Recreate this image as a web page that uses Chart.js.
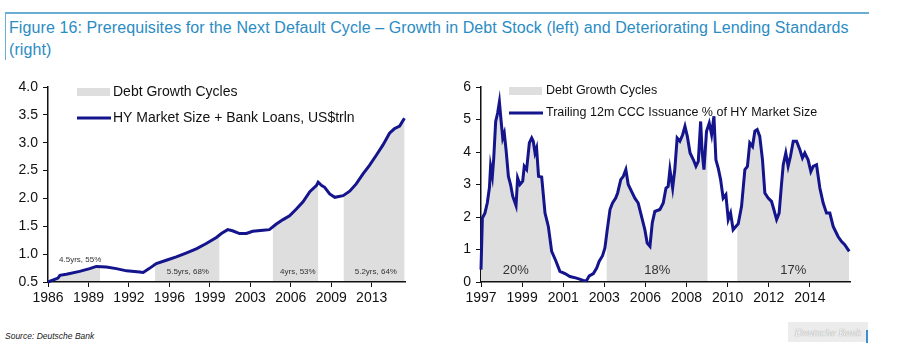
<!DOCTYPE html>
<html>
<head>
<meta charset="utf-8">
<script src="https://cdn.jsdelivr.net/npm/chart.js@4.4.1/dist/chart.umd.min.js"></script>
<style>
  body { margin: 0; width: 897px; height: 354px; background: #fff; position: relative; overflow: hidden; font-family: "Liberation Sans", Arial, sans-serif; }
  #frame { position: absolute; left: 5px; top: 12px; width: 863px; height: 46px; border-top: 2px solid #6aaed6; border-left: 1px solid #6aaed6; }
  #title { position: absolute; left: 9px; top: 17px; font-size: 16px; line-height: 22px; color: #2b8cc4; white-space: nowrap; letter-spacing: 0.1px; }
  .box { position: absolute; top: 60px; width: 440px; height: 260px; }
  #source { position: absolute; left: 5px; top: 331px; font-size: 8.5px; font-style: italic; color: #222; }
  #wm { position: absolute; left: 788px; top: 322px; width: 80px; height: 20px; background: #ececec; color: #fff; font: italic 11px "Liberation Serif", serif; line-height: 20px; text-align: center; text-shadow: 0 0 1px #666; }
  #wmbar { position: absolute; left: 866px; top: 330px; width: 2px; height: 13px; background: #3d8fd1; }
</style>
</head>
<body>
<div id="frame"></div>
<div id="title">Figure 16: Prerequisites for the Next Default Cycle – Growth in Debt Stock (left) and Deteriorating Lending Standards<br>(right)</div>
<div class="box" style="left:0px"><canvas id="left"></canvas></div>
<div class="box" style="left:450px"><canvas id="right"></canvas></div>
<div id="source">Source: Deutsche Bank</div>
<div id="wm">Deutsche Bank</div>
<div id="wmbar"></div>
<script>
// left: HY market size + bank loans, US$ trillion
const leftYears = [1986.0, 1986.84, 1987.0, 1987.54, 1988.66, 1989.5, 1990.06, 1990.9, 1991.74, 1992.6, 1993.7, 1994.0, 1994.5, 1995.1, 1995.94, 1996.78, 1997.6, 1998.5, 1999.3, 2000.15, 2000.57, 2001.1, 2001.5, 2002.1, 2002.67, 2003.2, 2004.07, 2004.6, 2005.19, 2005.75, 2006.3, 2006.87, 2007.43, 2008.0, 2008.55, 2008.7, 2009.0, 2009.25, 2009.67, 2010.1, 2010.8, 2011.35, 2011.9, 2012.47, 2013.0, 2013.6, 2014.15, 2014.7, 2015.1, 2015.55, 2015.95];
const leftValues = [0.50, 0.57, 0.62, 0.64, 0.69, 0.74, 0.78, 0.77, 0.74, 0.70, 0.68, 0.67, 0.74, 0.83, 0.89, 0.95, 1.02, 1.10, 1.19, 1.30, 1.37, 1.44, 1.42, 1.37, 1.37, 1.41, 1.43, 1.44, 1.54, 1.62, 1.69, 1.81, 1.94, 2.12, 2.23, 2.29, 2.23, 2.20, 2.08, 2.02, 2.05, 2.13, 2.26, 2.44, 2.59, 2.78, 2.96, 3.17, 3.25, 3.30, 3.44];
const leftCycleStart = [1986.0, 1995.0, 2004.9, 2010.85];
const leftCycleEnd = [1990.37, 2000.4, 2008.7, 2016.0];
const leftCycleText = ["4.5yrs, 55%", "5.5yrs, 68%", "4yrs, 53%", "5.2yrs, 64%"];
const leftCycleTextX = [1988.7, 1997.75, 2007.0, 2013.55];
const leftCycleTextY = [0.9, 0.68, 0.68, 0.68];
const leftTickPos = [1986, 1989.4, 1992.8, 1996.2, 1999.6, 2003.0, 2006.4, 2009.8, 2013.2];
const leftTickLabels = ["1986", "1989", "1992", "1996", "1999", "2003", "2006", "2009", "2013"];

// right: trailing 12m CCC issuance % of HY market size
const rightYears = [1997.65, 1997.72, 1997.85, 1997.97, 1998.08, 1998.14, 1998.23, 1998.30, 1998.40, 1998.50, 1998.59, 1998.67, 1998.76, 1998.84, 1998.93, 1999.05, 1999.16, 1999.27, 1999.44, 1999.52, 1999.64, 1999.78, 1999.86, 1999.98, 2000.12, 2000.24, 2000.32, 2000.41, 2000.49, 2000.59, 2000.75, 2000.92, 2001.09, 2001.26, 2001.48, 2001.68, 2001.94, 2002.19, 2002.53, 2002.87, 2003.04, 2003.18, 2003.39, 2003.56, 2003.69, 2003.86, 2003.98, 2004.10, 2004.24, 2004.37, 2004.53, 2004.63, 2004.79, 2004.92, 2005.05, 2005.17, 2005.34, 2005.51, 2005.68, 2005.85, 2006.02, 2006.14, 2006.28, 2006.40, 2006.53, 2006.79, 2006.96, 2007.10, 2007.21, 2007.30, 2007.44, 2007.55, 2007.67, 2007.81, 2007.95, 2008.07, 2008.19, 2008.33, 2008.50, 2008.63, 2008.75, 2008.87, 2008.95, 2009.04, 2009.17, 2009.31, 2009.43, 2009.55, 2009.65, 2009.77, 2009.89, 2010.02, 2010.16, 2010.28, 2010.40, 2010.53, 2010.67, 2010.79, 2010.96, 2011.13, 2011.26, 2011.38, 2011.52, 2011.64, 2011.76, 2011.89, 2012.03, 2012.15, 2012.32, 2012.49, 2012.61, 2012.75, 2012.88, 2013.00, 2013.09, 2013.22, 2013.34, 2013.46, 2013.60, 2013.77, 2013.94, 2014.07, 2014.19, 2014.36, 2014.50, 2014.62, 2014.79, 2014.96, 2015.13, 2015.30, 2015.47, 2015.64, 2015.89, 2016.06, 2016.23, 2016.46];
const rightValues = [0.38, 1.97, 2.12, 2.43, 2.90, 3.56, 3.25, 3.80, 4.94, 5.20, 5.54, 5.00, 4.43, 4.58, 4.07, 3.25, 3.00, 2.64, 2.35, 3.20, 3.00, 3.10, 3.56, 3.46, 4.28, 4.43, 4.33, 3.97, 4.12, 3.25, 3.23, 2.12, 1.71, 0.94, 0.64, 0.33, 0.26, 0.17, 0.12, 0.05, 0.04, 0.19, 0.26, 0.43, 0.64, 0.81, 1.05, 1.61, 2.23, 2.43, 2.58, 2.74, 3.15, 3.25, 3.46, 3.00, 2.79, 2.58, 2.43, 2.02, 1.61, 1.20, 1.10, 1.82, 2.17, 2.23, 2.43, 2.89, 2.94, 3.46, 2.89, 3.46, 4.43, 4.33, 4.53, 4.79, 4.48, 3.97, 3.76, 3.56, 3.71, 4.94, 3.97, 3.46, 4.64, 4.89, 4.53, 5.10, 3.76, 3.50, 3.15, 2.58, 2.69, 1.92, 2.12, 1.61, 1.71, 1.79, 2.33, 3.46, 3.56, 4.28, 4.17, 4.64, 4.69, 4.48, 3.76, 2.74, 2.58, 2.48, 2.23, 1.92, 2.12, 3.00, 3.61, 3.97, 3.56, 3.87, 4.33, 4.33, 4.07, 3.82, 3.97, 3.76, 3.40, 3.56, 3.61, 2.89, 2.43, 2.12, 2.12, 1.71, 1.40, 1.25, 1.15, 0.94];
const rightCycleStart = [1997.65, 2004.07, 2010.74];
const rightCycleEnd = [2001.22, 2009.22, 2016.46];
const rightCycleText = ["20%", "18%", "17%"];
const rightCycleTextX = [1999.43, 2006.65, 2013.6];
const rightCycleTextY = [0.37, 0.37, 0.37];
const rightTickPos = [1997.65, 1999.75, 2001.85, 2003.95, 2006.05, 2008.15, 2010.25, 2012.35, 2014.45];
const rightTickLabels = ["1997", "1999", "2001", "2003", "2006", "2008", "2010", "2012", "2014"];

const NAVY = "#14148c";
const SHADE = "#dedede";
const FONT = "'Liberation Sans', Arial, sans-serif";

// shaded debt-growth cycles (area under the line), cycle labels and the legend
const cyclesPlugin = {
  id: "cycles",
  beforeDatasetsDraw(chart, args, o) {
    const { ctx, chartArea: a, scales: { x, y } } = chart;
    const pts = chart.getDatasetMeta(0).data;
    const base = y.getPixelForValue(y.min) - 1;
    o.starts.forEach((s, i) => {
      const x0 = x.getPixelForValue(s), x1 = x.getPixelForValue(o.ends[i]);
      ctx.save();
      ctx.beginPath();
      ctx.rect(x0, a.top - 10, x1 - x0, a.bottom - a.top + 10);
      ctx.clip();
      ctx.beginPath();
      ctx.moveTo(pts[0].x, base);
      pts.forEach(p => ctx.lineTo(p.x, p.y));
      ctx.lineTo(pts[pts.length - 1].x, base);
      ctx.closePath();
      ctx.fillStyle = SHADE;
      ctx.fill();
      ctx.restore();
    });
    ctx.save();
    ctx.font = o.labelFont;
    ctx.fillStyle = "#333";
    ctx.textAlign = "center";
    ctx.textBaseline = "middle";
    o.texts.forEach((t, i) => ctx.fillText(t, x.getPixelForValue(o.textX[i]), y.getPixelForValue(o.textY[i])));
    ctx.restore();
  },
  afterDraw(chart, args, o) {
    const ctx = chart.ctx, L = o.legend;
    ctx.save();
    ctx.fillStyle = SHADE;
    ctx.fillRect(L.x, L.y1 - 4, 33, 8);
    ctx.strokeStyle = NAVY;
    ctx.lineWidth = 3;
    ctx.beginPath();
    ctx.moveTo(L.x, L.y2);
    ctx.lineTo(L.x + 34, L.y2);
    ctx.stroke();
    ctx.font = L.font;
    ctx.fillStyle = "#111";
    ctx.textBaseline = "middle";
    ctx.fillText("Debt Growth Cycles", L.tx, L.y1);
    ctx.fillText(L.label, L.tx, L.y2);
    ctx.restore();
  }
};

function buildChart(id, years, values, cfg) {
  const pts = years.map((yr, i) => ({ x: yr, y: values[i] }));
  return new Chart(document.getElementById(id), {
    type: "line",
    data: {
      datasets: [{
        label: cfg.label,
        data: pts,
        borderColor: NAVY,
        borderWidth: 3,
        pointRadius: 0,
        tension: 0,
        fill: false,
        clip: 4
      }]
    },
    options: {
      responsive: true,
      maintainAspectRatio: false,
      animation: false,
      layout: { padding: { top: 27, right: cfg.padRight, left: 0, bottom: 0 } },
      plugins: {
        legend: { display: false },
        tooltip: { enabled: false },
        cycles: {
          starts: cfg.starts, ends: cfg.ends,
          texts: cfg.texts, textX: cfg.textX, textY: cfg.textY,
          labelFont: cfg.labelFont,
          legend: cfg.legend
        }
      },
      scales: {
        x: {
          type: "linear",
          min: cfg.xmin, max: cfg.xmax,
          afterBuildTicks(s) { s.ticks = cfg.tickPos.map(v => ({ value: v })); },
          afterFit(s) { s.height = 38; },
          ticks: {
            autoSkip: false, maxRotation: 0, padding: 3,
            color: "#111", font: { family: FONT, size: 14 },
            callback: (v, i) => cfg.tickLabels[i]
          },
          grid: { drawOnChartArea: false, tickLength: 5, color: "#111" },
          border: { color: "#111", width: 1.5 }
        },
        y: {
          min: cfg.ymin, max: cfg.ymax,
          afterFit(s) { s.width = cfg.yWidth; },
          ticks: {
            stepSize: cfg.ystep, padding: 5,
            color: "#111", font: { family: FONT, size: 14 },
            callback: cfg.yfmt
          },
          grid: { drawOnChartArea: false, tickLength: 5, color: "#111" },
          border: { color: "#111", width: 1.5 }
        }
      }
    },
    plugins: [cyclesPlugin]
  });
}

buildChart("left", leftYears, leftValues, {
  label: "HY Market Size + Bank Loans, US$trln",
  xmin: 1986, xmax: 2016, ymin: 0.5, ymax: 4, ystep: 0.5,
  yfmt: v => v.toFixed(1),
  yWidth: 48, padRight: 35,
  tickPos: leftTickPos, tickLabels: leftTickLabels,
  starts: leftCycleStart, ends: leftCycleEnd,
  texts: leftCycleText, textX: leftCycleTextX, textY: leftCycleTextY,
  labelFont: "8px " + FONT,
  legend: { x: 77, tx: 113, y1: 32, y2: 58, font: "14px " + FONT, label: "HY Market Size + Bank Loans, US$trln" }
});

buildChart("right", rightYears, rightValues, {
  label: "Trailing 12m CCC Issuance % of HY Market Size",
  xmin: 1997.65, xmax: 2016.5, ymin: 0, ymax: 6, ystep: 1,
  yfmt: v => String(v),
  yWidth: 31, padRight: 40,
  tickPos: rightTickPos, tickLabels: rightTickLabels,
  starts: rightCycleStart, ends: rightCycleEnd,
  texts: rightCycleText, textX: rightCycleTextX, textY: rightCycleTextY,
  labelFont: "13px " + FONT,
  legend: { x: 59, tx: 96, y1: 31, y2: 53, font: "12.5px " + FONT, label: "Trailing 12m CCC Issuance % of HY Market Size" }
});
</script>
</body>
</html>
